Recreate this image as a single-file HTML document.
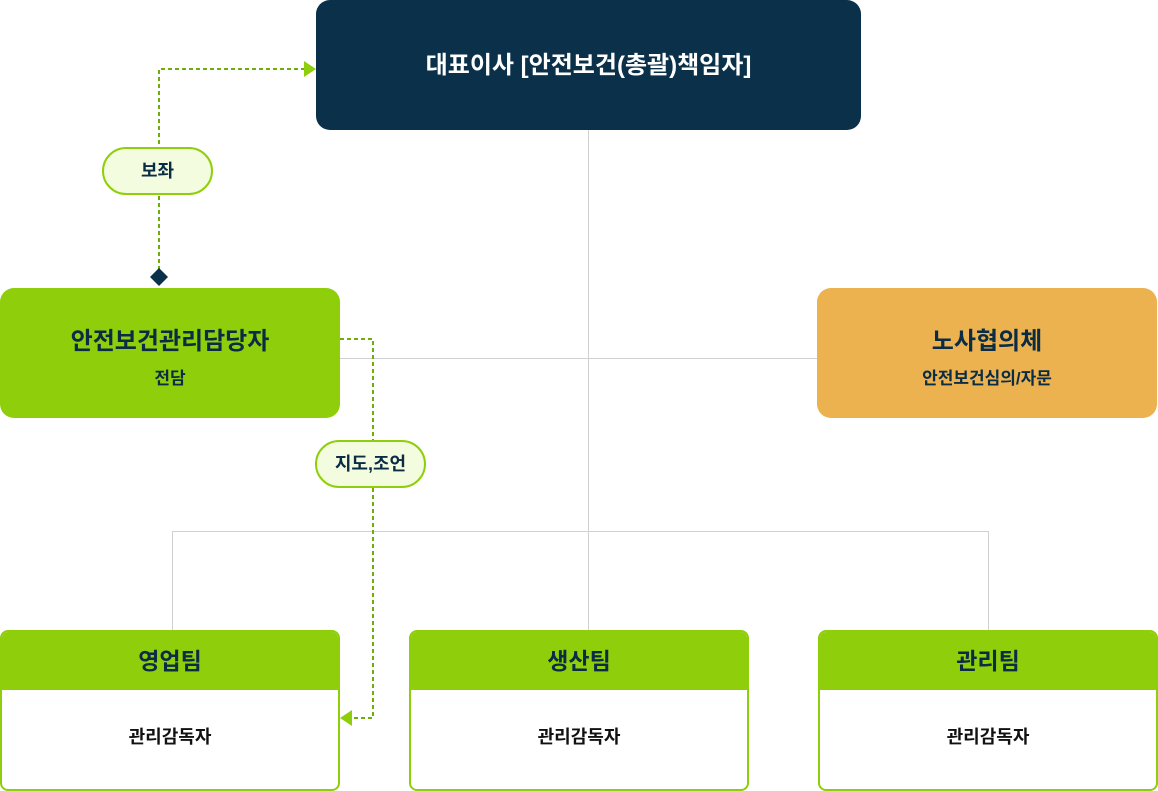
<!DOCTYPE html>
<html><head><meta charset="utf-8"><style>
body{margin:0;width:1158px;height:791px;background:#fff;position:relative;overflow:hidden;font-family:"Liberation Sans","Noto Sans CJK KR",sans-serif;color:#0b2c45}
.a{position:absolute;box-sizing:border-box;text-align:center}
.pill{background:#f3fcdf;border:2px solid #8fce0a;border-radius:24px;font-weight:bold;font-size:18px;line-height:44px}
.team{border:2px solid #8fce0a;border-radius:8px;background:#fff;overflow:hidden}
.team .h{background:#8fce0a;height:58px;line-height:58px;font-size:23px;font-weight:bold}
.team .s{line-height:94px;font-size:18px;font-weight:bold;color:#111}
</style></head><body>
<svg class="a" style="left:0;top:0" width="1158" height="791">
<g stroke="#d0d0d0" stroke-width="1" fill="none">
<path d="M588.5 130V630M340 358.5H817M172 531.5H988.5M172.5 531V630M988.5 531V630"/>
</g>
<g stroke="#6fae0a" stroke-width="2" stroke-dasharray="4 3" fill="none">
<path d="M159 270V69H304"/>
<path d="M340 339H373V718H352"/>
</g>
<polygon points="304,61 316,69 304,77" fill="#8fce0a"/>
<polygon points="352,710 340,718 352,726" fill="#8fce0a"/>
<polygon points="159,268 168,277 159,286 150,277" fill="#0b3049"/>
</svg>
<div class="a" style="left:316px;top:0;width:545px;height:130px;background:#0b3049;border-radius:14px;color:#fff;font-weight:bold;font-size:24px;line-height:132px">대표이사 [안전보건(총괄)책임자]</div>
<div class="a" style="left:0;top:288px;width:340px;height:130px;background:#8fce0a;border-radius:14px">
<div style="font-size:24px;font-weight:bold;margin-top:33px">안전보건관리담당자</div>
<div style="font-size:17px;font-weight:bold;margin-top:8px">전담</div></div>
<div class="a" style="left:817px;top:288px;width:340px;height:130px;background:#ebb24f;border-radius:14px">
<div style="font-size:24px;font-weight:bold;margin-top:33px">노사협의체</div>
<div style="font-size:17px;font-weight:bold;margin-top:8px">안전보건심의/자문</div></div>
<div class="a pill" style="left:102px;top:147px;width:111px;height:48px">보좌</div>
<div class="a pill" style="left:315px;top:440px;width:111px;height:48px">지도,조언</div>
<div class="a team" style="left:0;top:630px;width:340px;height:161px"><div class="h">영업팀</div><div class="s">관리감독자</div></div>
<div class="a team" style="left:409px;top:630px;width:340px;height:161px"><div class="h">생산팀</div><div class="s">관리감독자</div></div>
<div class="a team" style="left:818px;top:630px;width:340px;height:161px"><div class="h">관리팀</div><div class="s">관리감독자</div></div>
</body></html>
